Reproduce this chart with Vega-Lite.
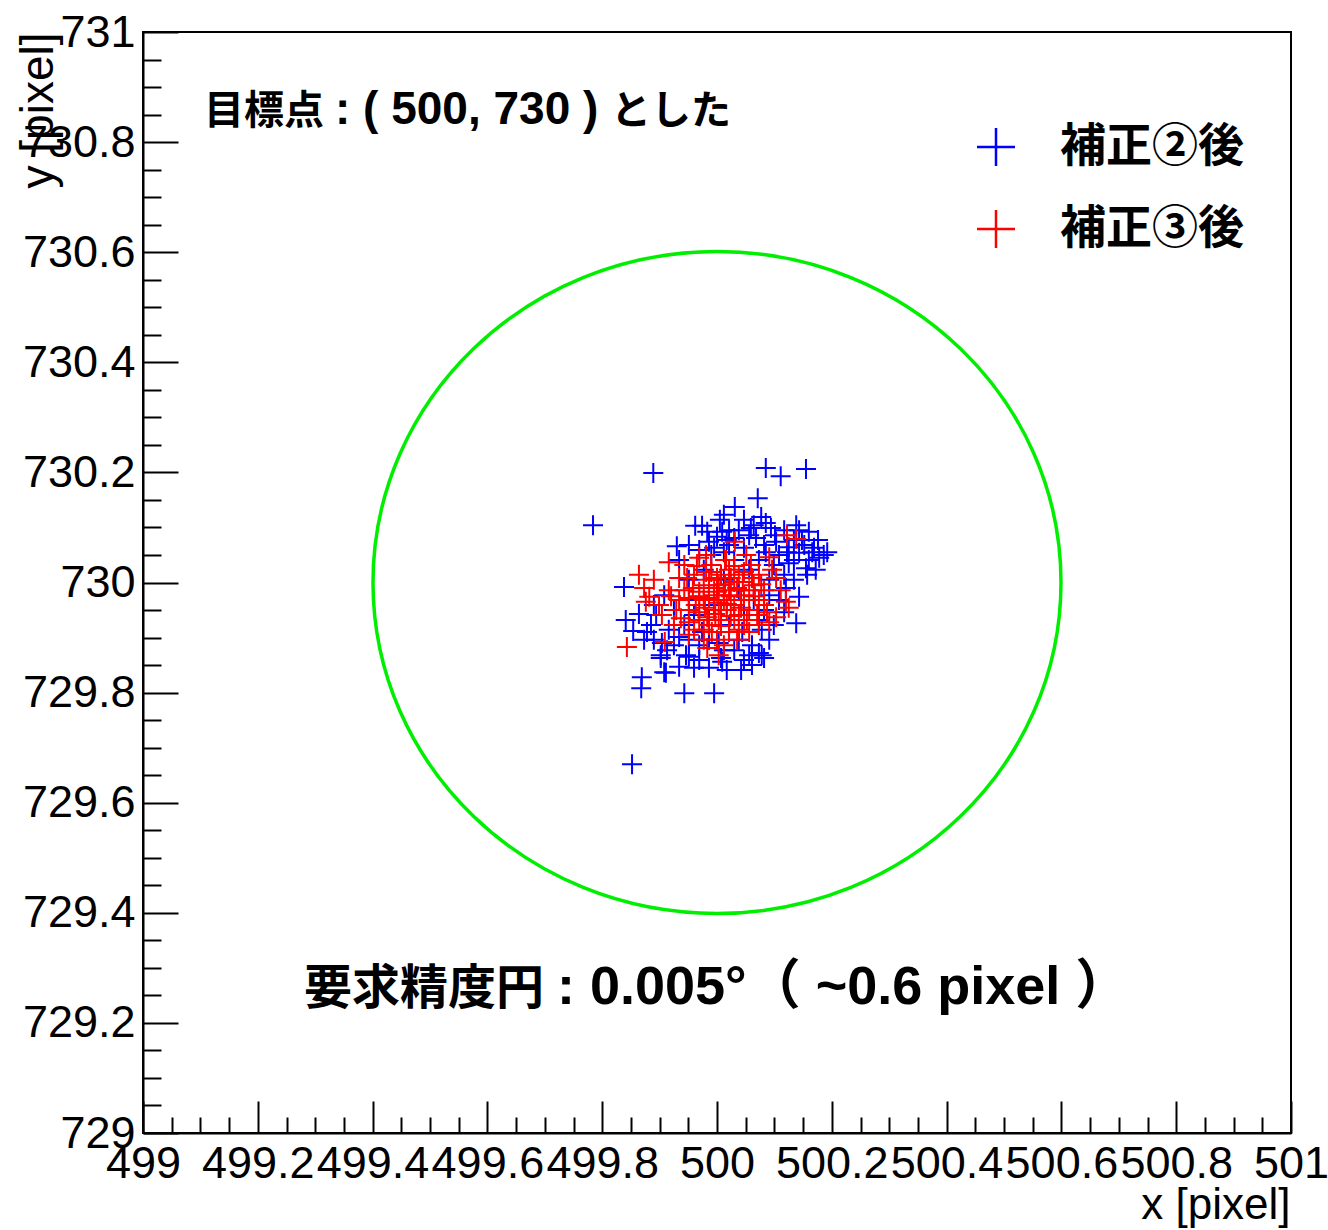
{
  "$schema": "https://vega.github.io/schema/vega-lite/v6.json",
  "width": 1148,
  "height": 1101,
  "autosize": {"type": "none"},
  "padding": {"left": 143, "top": 32, "right": 37, "bottom": 97},
  "background": "white",
  "config": {
    "view": {"stroke": "black", "strokeWidth": 2},
    "axis": {"grid": false, "domainColor": "black", "domainWidth": 2, "tickColor": "black", "tickWidth": 2, "labelColor": "black", "titleColor": "black", "labelFont": "Liberation Sans", "titleFont": "Liberation Sans", "labelOverlap": false, "labelFlush": false, "labelBound": false, "tickCount": 100}
  },
  "datasets": {
    "ring": [{"x": 500, "y": 730}],
    "pts": [
      {"series":"補正②後","x":499.889,"y":730.199},{"series":"補正②後","x":499.784,"y":730.104},{"series":"補正②後","x":500.085,"y":730.208},{"series":"補正②後","x":500.111,"y":730.193},{"series":"補正②後","x":500.155,"y":730.206},{"series":"補正②後","x":500.071,"y":730.153},{"series":"補正②後","x":500.031,"y":730.137},{"series":"補正②後","x":499.962,"y":730.103},{"series":"補正②後","x":499.930,"y":730.066},{"series":"補正②後","x":499.983,"y":730.092},
      {"series":"補正②後","x":500.077,"y":730.119},{"series":"補正②後","x":500.005,"y":730.114},{"series":"補正②後","x":500.085,"y":730.108},{"series":"補正②後","x":500.138,"y":730.104},{"series":"補正②後","x":500.160,"y":730.092},{"series":"補正②後","x":500.176,"y":730.077},{"series":"補正②後","x":500.186,"y":730.050},{"series":"補正②後","x":500.125,"y":730.064},{"series":"補正②後","x":499.974,"y":730.103},{"series":"補正②後","x":500.009,"y":730.092},
      {"series":"補正②後","x":500.038,"y":730.095},{"series":"補正②後","x":500.056,"y":730.086},{"series":"補正②後","x":500.103,"y":730.074},{"series":"補正②後","x":499.986,"y":730.074},{"series":"補正②後","x":500.000,"y":730.083},{"series":"補正②後","x":500.068,"y":730.081},{"series":"補正②後","x":500.108,"y":730.050},{"series":"補正②後","x":500.143,"y":730.054},{"series":"補正②後","x":500.166,"y":730.055},{"series":"補正②後","x":500.085,"y":730.055},
      {"series":"補正②後","x":499.838,"y":729.992},{"series":"補正②後","x":499.841,"y":729.932},{"series":"補正②後","x":499.885,"y":729.923},{"series":"補正②後","x":499.873,"y":729.896},{"series":"補正②後","x":499.904,"y":729.890},{"series":"補正②後","x":499.902,"y":729.868},{"series":"補正②後","x":499.934,"y":729.901},{"series":"補正②後","x":499.946,"y":729.868},{"series":"補正②後","x":499.894,"y":729.941},{"series":"補正②後","x":500.178,"y":730.045},
      {"series":"補正②後","x":500.155,"y":730.026},{"series":"補正②後","x":500.125,"y":730.035},{"series":"補正②後","x":500.172,"y":730.023},{"series":"補正②後","x":500.120,"y":729.990},{"series":"補正②後","x":500.143,"y":729.974},{"series":"補正②後","x":500.138,"y":729.926},{"series":"補正②後","x":500.078,"y":729.914},{"series":"補正②後","x":500.061,"y":729.886},{"series":"補正②後","x":500.078,"y":729.868},{"series":"補正②後","x":500.073,"y":729.872},
      {"series":"補正②後","x":500.003,"y":729.890},{"series":"補正②後","x":500.009,"y":729.856},{"series":"補正②後","x":500.044,"y":729.910},{"series":"補正②後","x":499.974,"y":729.910},{"series":"補正②後","x":499.869,"y":729.828},{"series":"補正②後","x":499.868,"y":729.808},{"series":"補正②後","x":499.908,"y":729.837},{"series":"補正②後","x":499.934,"y":729.847},{"series":"補正②後","x":499.943,"y":729.799},{"series":"補正②後","x":499.995,"y":729.799},
      {"series":"補正②後","x":500.017,"y":729.841},{"series":"補正②後","x":500.061,"y":729.850},{"series":"補正②後","x":500.082,"y":729.863},{"series":"補正②後","x":499.902,"y":729.863},{"series":"補正②後","x":499.951,"y":729.865},{"series":"補正②後","x":500.007,"y":729.863},{"series":"補正②後","x":499.852,"y":729.670},{"series":"補正②後","x":499.911,"y":729.836},{"series":"補正②後","x":500.021,"y":730.068},{"series":"補正②後","x":500.047,"y":730.063},
      {"series":"補正②後","x":500.073,"y":730.041},{"series":"補正②後","x":500.099,"y":730.032},{"series":"補正②後","x":500.030,"y":730.041},{"series":"補正②後","x":500.056,"y":730.023},{"series":"補正②後","x":500.091,"y":730.005},{"series":"補正②後","x":500.038,"y":729.986},{"series":"補正②後","x":500.064,"y":729.968},{"series":"補正②後","x":500.108,"y":729.968},{"series":"補正②後","x":500.082,"y":729.950},{"series":"補正②後","x":500.047,"y":729.941},
      {"series":"補正②後","x":500.021,"y":729.923},{"series":"補正②後","x":499.986,"y":729.932},{"series":"補正②後","x":499.960,"y":729.941},{"series":"補正②後","x":499.943,"y":729.923},{"series":"補正②後","x":499.969,"y":729.886},{"series":"補正②後","x":500.030,"y":729.877},{"series":"補正②後","x":499.916,"y":729.914},{"series":"補正②後","x":499.925,"y":729.950},{"series":"補正②後","x":499.951,"y":729.968},{"series":"補正②後","x":499.995,"y":729.959},
      {"series":"補正②後","x":500.012,"y":730.005},{"series":"補正②後","x":499.977,"y":730.023},{"series":"補正②後","x":499.951,"y":730.005},{"series":"補正②後","x":500.134,"y":730.077},{"series":"補正②後","x":500.152,"y":730.068},{"series":"補正②後","x":500.117,"y":730.095},{"series":"補正②後","x":500.064,"y":730.104},{"series":"補正②後","x":500.017,"y":730.077},{"series":"補正②後","x":499.990,"y":730.050},{"series":"補正②後","x":500.038,"y":729.896},
      {"series":"補正②後","x":500.056,"y":729.868},{"series":"補正②後","x":499.969,"y":729.859},{"series":"補正②後","x":499.925,"y":729.886},{"series":"補正②後","x":499.890,"y":729.896},{"series":"補正②後","x":499.878,"y":729.910},{"series":"補正②後","x":500.160,"y":730.041},{"series":"補正②後","x":500.117,"y":730.014},{"series":"補正②後","x":500.091,"y":729.977},{"series":"補正②後","x":500.134,"y":730.005},{"series":"補正②後","x":500.073,"y":729.932},
      {"series":"補正②後","x":500.099,"y":729.923},{"series":"補正②後","x":499.986,"y":729.896},{"series":"補正②後","x":500.012,"y":729.877},{"series":"補正②後","x":499.951,"y":729.896},{"series":"補正②後","x":500.047,"y":729.859},
      {"series":"補正②後","x":500.047,"y":730.114},{"series":"補正②後","x":500.094,"y":730.099},{"series":"補正②後","x":500.030,"y":730.081},{"series":"補正②後","x":500.082,"y":730.068},{"series":"補正②後","x":500.122,"y":730.055},{"series":"補正②後","x":500.148,"y":730.077},{"series":"補正②後","x":500.169,"y":730.063},{"series":"補正②後","x":500.192,"y":730.055},{"series":"補正②後","x":500.101,"y":730.086},{"series":"補正②後","x":500.059,"y":730.099},
      {"series":"補正②後","x":499.995,"y":730.063},{"series":"補正②後","x":499.969,"y":730.059},{"series":"補正②後","x":500.012,"y":730.055},{"series":"補正②後","x":500.157,"y":730.014},{"series":"補正②後","x":500.134,"y":730.041},{"series":"補正②後","x":499.951,"y":730.068},{"series":"補正②後","x":499.934,"y":730.041},{"series":"補正②後","x":499.908,"y":729.977},{"series":"補正②後","x":499.890,"y":729.959},{"series":"補正②後","x":499.913,"y":729.877},
      {"series":"補正②後","x":499.960,"y":729.845},{"series":"補正②後","x":499.986,"y":729.845},{"series":"補正②後","x":500.042,"y":729.841},{"series":"補正②後","x":500.091,"y":729.896},{"series":"補正②後","x":500.117,"y":729.946},{"series":"補正②後","x":499.864,"y":729.943},{"series":"補正②後","x":499.854,"y":729.912},{"series":"補正②後","x":500.012,"y":730.123},{"series":"補正②後","x":500.021,"y":730.095},{"series":"補正②後","x":500.143,"y":730.095},
      {"series":"補正③後","x":499.916,"y":730.037},{"series":"補正③後","x":499.969,"y":730.045},{"series":"補正③後","x":500.031,"y":730.074},{"series":"補正③後","x":500.122,"y":730.086},{"series":"補正③後","x":500.138,"y":730.079},{"series":"補正③後","x":500.051,"y":730.050},{"series":"補正③後","x":500.091,"y":730.046},{"series":"補正③後","x":499.981,"y":730.050},{"series":"補正③後","x":500.016,"y":730.041},{"series":"補正③後","x":499.864,"y":730.014},
      {"series":"補正③後","x":499.873,"y":729.990},{"series":"補正③後","x":499.882,"y":729.974},{"series":"補正③後","x":499.876,"y":729.965},{"series":"補正③後","x":499.843,"y":729.883},{"series":"補正③後","x":499.909,"y":729.892},{"series":"補正③後","x":499.951,"y":729.905},{"series":"補正③後","x":499.929,"y":729.950},{"series":"補正③後","x":499.951,"y":729.972},{"series":"補正③後","x":499.904,"y":729.941},{"series":"補正③後","x":499.934,"y":730.008},
      {"series":"補正③後","x":499.981,"y":730.019},{"series":"補正③後","x":499.969,"y":729.983},{"series":"補正③後","x":499.951,"y":729.928},{"series":"補正③後","x":500.096,"y":730.023},{"series":"補正③後","x":500.103,"y":730.008},{"series":"補正③後","x":500.120,"y":729.965},{"series":"補正③後","x":500.125,"y":729.954},{"series":"補正③後","x":500.103,"y":729.937},{"series":"補正③後","x":500.091,"y":729.928},{"series":"補正③後","x":500.003,"y":729.868},
      {"series":"補正③後","x":500.056,"y":729.910},{"series":"補正③後","x":499.986,"y":730.005},{"series":"補正③後","x":500.003,"y":729.995},{"series":"補正③後","x":500.021,"y":729.986},{"series":"補正③後","x":499.995,"y":729.977},{"series":"補正③後","x":500.012,"y":729.968},{"series":"補正③後","x":499.977,"y":729.968},{"series":"補正③後","x":500.030,"y":729.959},{"series":"補正③後","x":499.995,"y":729.950},{"series":"補正③後","x":500.003,"y":729.932},
      {"series":"補正③後","x":500.038,"y":729.941},{"series":"補正③後","x":500.047,"y":729.977},{"series":"補正③後","x":500.064,"y":729.995},{"series":"補正③後","x":500.073,"y":730.014},{"series":"補正③後","x":500.038,"y":730.014},{"series":"補正③後","x":500.021,"y":730.023},{"series":"補正③後","x":499.960,"y":730.014},{"series":"補正③後","x":499.943,"y":729.986},{"series":"補正③後","x":499.969,"y":729.946},{"series":"補正③後","x":499.986,"y":729.923},
      {"series":"補正③後","x":500.021,"y":729.910},{"series":"補正③後","x":499.977,"y":729.896},{"series":"補正③後","x":500.012,"y":729.886},{"series":"補正③後","x":500.073,"y":729.968},{"series":"補正③後","x":500.082,"y":729.986},{"series":"補正③後","x":500.056,"y":729.950},{"series":"補正③後","x":499.934,"y":729.968},{"series":"補正③後","x":499.916,"y":729.986},{"series":"補正③後","x":499.899,"y":729.959},{"series":"補正③後","x":499.925,"y":729.923},
      {"series":"補正③後","x":499.960,"y":729.914},{"series":"補正③後","x":500.047,"y":729.923},{"series":"補正③後","x":500.070,"y":729.941},{"series":"補正③後","x":499.990,"y":730.032},{"series":"補正③後","x":500.007,"y":730.014},{"series":"補正③後","x":500.030,"y":730.001},{"series":"補正③後","x":499.977,"y":729.995},{"series":"補正③後","x":500.000,"y":729.983},{"series":"補正③後","x":500.017,"y":729.950},{"series":"補正③後","x":500.042,"y":729.968},
      {"series":"補正③後","x":499.963,"y":729.959},{"series":"補正③後","x":499.991,"y":729.910},{"series":"補正③後","x":500.030,"y":729.932},{"series":"補正③後","x":500.082,"y":729.959},{"series":"補正③後","x":499.890,"y":730.005},{"series":"補正③後","x":499.943,"y":730.032},{"series":"補正③後","x":500.059,"y":730.032},{"series":"補正③後","x":500.111,"y":729.986},{"series":"補正③後","x":500.003,"y":729.963},{"series":"補正③後","x":499.983,"y":729.937},
      {"series":"補正③後","x":499.990,"y":730.019},{"series":"補正③後","x":500.000,"y":730.008},{"series":"補正③後","x":500.014,"y":729.997},{"series":"補正③後","x":500.024,"y":729.975},{"series":"補正③後","x":500.035,"y":729.990},{"series":"補正③後","x":500.045,"y":730.001},{"series":"補正③後","x":500.056,"y":729.986},{"series":"補正③後","x":500.017,"y":729.961},{"series":"補正③後","x":499.997,"y":729.943},{"series":"補正③後","x":499.979,"y":729.954},
      {"series":"補正③後","x":499.969,"y":729.975},{"series":"補正③後","x":499.958,"y":729.990},{"series":"補正③後","x":500.007,"y":729.921},{"series":"補正③後","x":500.024,"y":729.939},{"series":"補正③後","x":500.042,"y":729.954},{"series":"補正③後","x":500.052,"y":729.932},{"series":"補正③後","x":500.066,"y":729.975},{"series":"補正③後","x":500.077,"y":729.997},{"series":"補正③後","x":500.030,"y":730.030},{"series":"補正③後","x":500.047,"y":730.019},
      {"series":"補正③後","x":499.969,"y":729.932},{"series":"補正③後","x":499.951,"y":729.950},{"series":"補正③後","x":499.995,"y":729.990},{"series":"補正③後","x":500.012,"y":729.977},{"series":"補正③後","x":499.986,"y":729.972},{"series":"補正③後","x":500.024,"y":730.008},{"series":"補正③後","x":500.000,"y":729.896},{"series":"補正③後","x":499.983,"y":729.881},{"series":"補正③後","x":500.007,"y":729.950},{"series":"補正③後","x":500.038,"y":729.914},
      {"series":"補正③後","x":500.073,"y":729.923},{"series":"補正③後","x":500.087,"y":729.946},{"series":"補正③後","x":499.965,"y":730.030},{"series":"補正③後","x":499.948,"y":730.008},{"series":"補正③後","x":499.920,"y":729.975},{"series":"補正③後","x":499.937,"y":729.935},{"series":"補正③後","x":500.014,"y":730.041},{"series":"補正③後","x":500.061,"y":730.008},{"series":"補正③後","x":500.035,"y":729.896},{"series":"補正③後","x":499.977,"y":729.914}
    ]
  },
  "layer": [
    {
      "data": {"name": "ring"},
      "mark": {"type": "point", "shape": "M-1,0A1,0.962,0,1,1,1,0A1,0.962,0,1,1,-1,0Z", "size": 473344, "filled": false, "stroke": "#00ee00", "strokeWidth": 3.5, "opacity": 1},
      "encoding": {
        "x": {"field": "x", "type": "quantitative", "scale": {"domain": [499, 501], "nice": false, "zero": false},
          "axis": {"title": "x [pixel]", "values": [499,499.05,499.1,499.15,499.2,499.25,499.3,499.35,499.4,499.45,499.5,499.55,499.6,499.65,499.7,499.75,499.8,499.85,499.9,499.95,500,500.05,500.1,500.15,500.2,500.25,500.3,500.35,500.4,500.45,500.5,500.55,500.6,500.65,500.7,500.75,500.8,500.85,500.9,500.95,501],
            "labelExpr": "abs(datum.value*5 - round(datum.value*5)) < 0.01 ? format(datum.value, '.6~g') : ''",
            "tickSize": {"expr": "abs(datum.value*5 - round(datum.value*5)) < 0.01 ? -32 : -16"},
            "labelFontSize": 45, "labelPadding": 40, "labelBaseline": "top",
            "titleFontSize": 44, "titleFontWeight": "normal", "titleAnchor": "end", "titleAlign": "right", "titleBaseline": "alphabetic", "titleX": 1147, "titleY": 85}},
        "y": {"field": "y", "type": "quantitative", "scale": {"domain": [729, 731], "nice": false, "zero": false},
          "axis": {"title": "y [pixel]", "values": [729,729.05,729.1,729.15,729.2,729.25,729.3,729.35,729.4,729.45,729.5,729.55,729.6,729.65,729.7,729.75,729.8,729.85,729.9,729.95,730,730.05,730.1,730.15,730.2,730.25,730.3,730.35,730.4,730.45,730.5,730.55,730.6,730.65,730.7,730.75,730.8,730.85,730.9,730.95,731],
            "labelExpr": "abs(datum.value*5 - round(datum.value*5)) < 0.01 ? format(datum.value, '.6~g') : ''",
            "tickSize": {"expr": "abs(datum.value*5 - round(datum.value*5)) < 0.01 ? -35 : -18"},
            "labelFontSize": 45, "labelPadding": 43,
            "titleFontSize": 46, "titleFontWeight": "normal", "titleAngle": 270, "titleAnchor": "end", "titleAlign": "right", "titleBaseline": "alphabetic", "titleX": -91, "titleY": 0}}
      }
    },
    {
      "data": {"name": "pts"},
      "mark": {"type": "point", "shape": "M-1,0L1,0M0,-1L0,1", "size": 400, "filled": false, "strokeWidth": 2, "opacity": 1},
      "encoding": {
        "x": {"field": "x", "type": "quantitative"},
        "y": {"field": "y", "type": "quantitative"},
        "color": {"field": "series", "type": "nominal",
          "scale": {"domain": ["補正②後", "補正③後"], "range": ["#0000ff", "#ff0000"]},
          "legend": {"title": null, "orient": "none", "legendX": 830, "legendY": 92, "padding": 0,
            "symbolType": "M-1,0L1,0M0,-1L0,1", "symbolSize": 1444, "symbolStrokeWidth": 2.5,
            "labelFont": "Noto Sans CJK JP", "labelFontSize": 46, "labelFontWeight": "bold", "labelColor": "black", "labelOffset": 41, "labelLimit": 500, "rowPadding": 34}}
      }
    },
    {
      "data": {"values": [{"x": 499.1063, "y": 730.833, "t": "目標点"}]},
      "mark": {"type": "text", "align": "left", "baseline": "alphabetic", "font": "Noto Sans CJK JP", "fontWeight": "bold", "fontSize": 40, "color": "black"},
      "encoding": {"x": {"field": "x", "type": "quantitative"}, "y": {"field": "y", "type": "quantitative"}, "text": {"field": "t"}}
    },
    {
      "data": {"values": [{"x": 499.3345, "y": 730.833, "t": ": ( 500, 730 )"}]},
      "mark": {"type": "text", "align": "left", "baseline": "alphabetic", "font": "Liberation Sans", "fontWeight": "bold", "fontSize": 46, "color": "black"},
      "encoding": {"x": {"field": "x", "type": "quantitative"}, "y": {"field": "y", "type": "quantitative"}, "text": {"field": "t"}}
    },
    {
      "data": {"values": [{"x": 499.8153, "y": 730.833, "t": "とした"}]},
      "mark": {"type": "text", "align": "left", "baseline": "alphabetic", "font": "Noto Sans CJK JP", "fontWeight": "bold", "fontSize": 40, "color": "black"},
      "encoding": {"x": {"field": "x", "type": "quantitative"}, "y": {"field": "y", "type": "quantitative"}, "text": {"field": "t"}}
    },
    {
      "data": {"values": [{"x": 499.2805, "y": 729.234, "t": "要求精度円"}]},
      "mark": {"type": "text", "align": "left", "baseline": "alphabetic", "font": "Noto Sans CJK JP", "fontWeight": "bold", "fontSize": 48, "color": "black"},
      "encoding": {"x": {"field": "x", "type": "quantitative"}, "y": {"field": "y", "type": "quantitative"}, "text": {"field": "t"}}
    },
    {
      "data": {"values": [{"x": 499.7212, "y": 729.234, "t": ": 0.005°（ ~0.6 pixel ）"}]},
      "mark": {"type": "text", "align": "left", "baseline": "alphabetic", "font": "Liberation Sans, Noto Sans CJK JP", "fontWeight": "bold", "fontSize": 54, "color": "black"},
      "encoding": {"x": {"field": "x", "type": "quantitative"}, "y": {"field": "y", "type": "quantitative"}, "text": {"field": "t"}}
    }
  ]
}
